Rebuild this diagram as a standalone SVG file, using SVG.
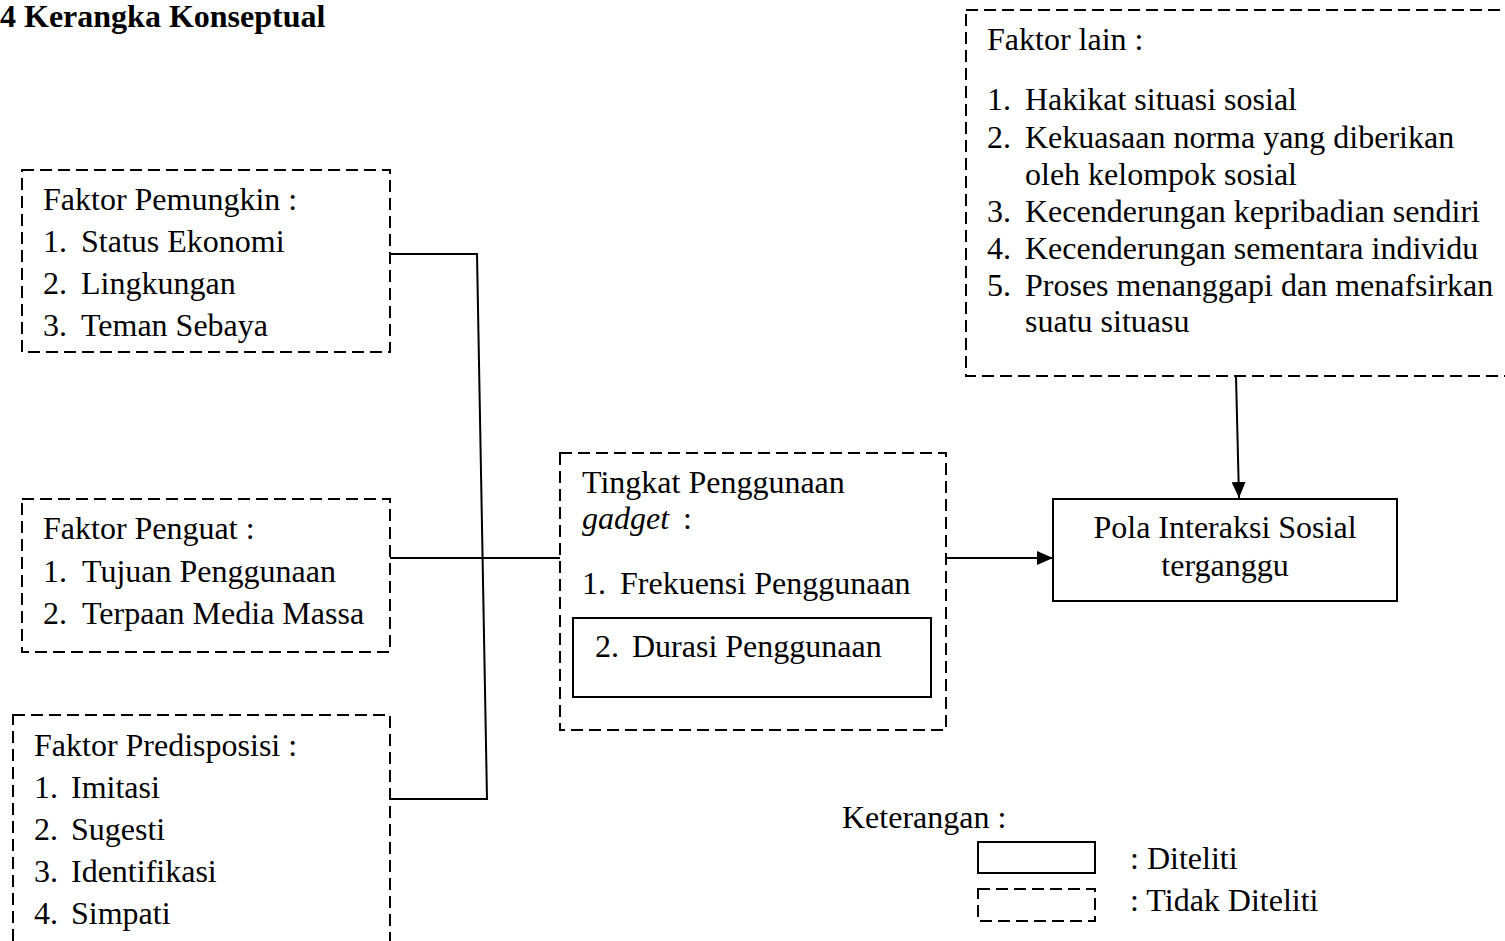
<svg xmlns="http://www.w3.org/2000/svg" width="1505" height="941" viewBox="0 0 1505 941">
<style>
text{font-family:"Liberation Serif","Times New Roman",serif;font-size:32px;fill:#000}
.title{font-weight:bold;font-size:32px}
.dash{fill:none;stroke:#000;stroke-width:2;stroke-dasharray:12 6}
.solid{fill:none;stroke:#000;stroke-width:2}
.conn{fill:none;stroke:#000;stroke-width:2}
</style>
<defs>
<marker id="arr" markerWidth="16" markerHeight="14" refX="16" refY="7" orient="auto" markerUnits="userSpaceOnUse">
<path d="M0,0 L16,7 L0,14 Z" fill="#000"/>
</marker>
</defs>
<rect width="1505" height="941" fill="#fff"/>
<text class="title" x="0" y="27">4 Kerangka Konseptual</text>

<g id="pemungkin">
<rect class="dash" x="22" y="170" width="368" height="182"/>
<text x="43" y="210">Faktor Pemungkin :</text>
<text x="43" y="252">1.</text><text x="81" y="252">Status Ekonomi</text>
<text x="43" y="294">2.</text><text x="81" y="294">Lingkungan</text>
<text x="43" y="336">3.</text><text x="81" y="336">Teman Sebaya</text>
</g>

<g id="penguat">
<rect class="dash" x="22" y="499" width="368" height="153"/>
<text x="43" y="539">Faktor Penguat :</text>
<text x="43" y="582">1.</text><text x="82" y="582">Tujuan Penggunaan</text>
<text x="43" y="624">2.</text><text x="82" y="624">Terpaan Media Massa</text>
</g>

<g id="predisposisi">
<rect class="dash" x="13" y="715" width="377" height="240"/>
<text x="34" y="756">Faktor Predisposisi :</text>
<text x="34" y="798">1.</text><text x="71" y="798">Imitasi</text>
<text x="34" y="840">2.</text><text x="71" y="840">Sugesti</text>
<text x="34" y="882">3.</text><text x="71" y="882">Identifikasi</text>
<text x="34" y="924">4.</text><text x="71" y="924">Simpati</text>
</g>

<g id="tingkat">
<rect class="dash" x="560" y="453" width="386" height="277"/>
<text x="582" y="493">Tingkat Penggunaan</text>
<text x="582" y="529"><tspan font-style="italic">gadget</tspan></text>
<text x="683" y="529">:</text>
<text x="582" y="594">1.</text><text x="620" y="594">Frekuensi Penggunaan</text>
<rect class="solid" x="573" y="618" width="358" height="79"/>
<text x="595" y="657">2.</text><text x="632" y="657">Durasi Penggunaan</text>
</g>

<g id="pola">
<rect class="solid" x="1053" y="499" width="344" height="102"/>
<text x="1225" y="538" text-anchor="middle">Pola Interaksi Sosial</text>
<text x="1225" y="576" text-anchor="middle">terganggu</text>
</g>

<g id="faktorlain">
<rect class="dash" x="966" y="10" width="560" height="366"/>
<text x="987" y="50">Faktor lain :</text>
<text x="987" y="110">1.</text><text x="1025" y="110">Hakikat situasi sosial</text>
<text x="987" y="148">2.</text><text x="1025" y="148">Kekuasaan norma yang diberikan</text>
<text x="1025" y="185">oleh kelompok sosial</text>
<text x="987" y="222">3.</text><text x="1025" y="222">Kecenderungan kepribadian sendiri</text>
<text x="987" y="259">4.</text><text x="1025" y="259">Kecenderungan sementara individu</text>
<text x="987" y="296">5.</text><text x="1025" y="296">Proses menanggapi dan menafsirkan</text>
<text x="1025" y="332">suatu situasu</text>
</g>

<g id="connectors">
<polyline class="conn" points="390,254 477,254 487,799 390,799"/>
<line class="conn" x1="390" y1="558" x2="560" y2="558"/>
<line class="conn" x1="946" y1="558" x2="1053" y2="558" marker-end="url(#arr)"/>
<line class="conn" x1="1236" y1="376" x2="1239" y2="498" marker-end="url(#arr)"/>
</g>

<g id="legend">
<text x="842" y="828">Keterangan :</text>
<rect class="solid" x="978" y="842" width="117" height="31"/>
<text x="1130" y="869">: Diteliti</text>
<rect class="dash" x="978" y="889" width="117" height="32"/>
<text x="1130" y="911">: Tidak Diteliti</text>
</g>
</svg>
